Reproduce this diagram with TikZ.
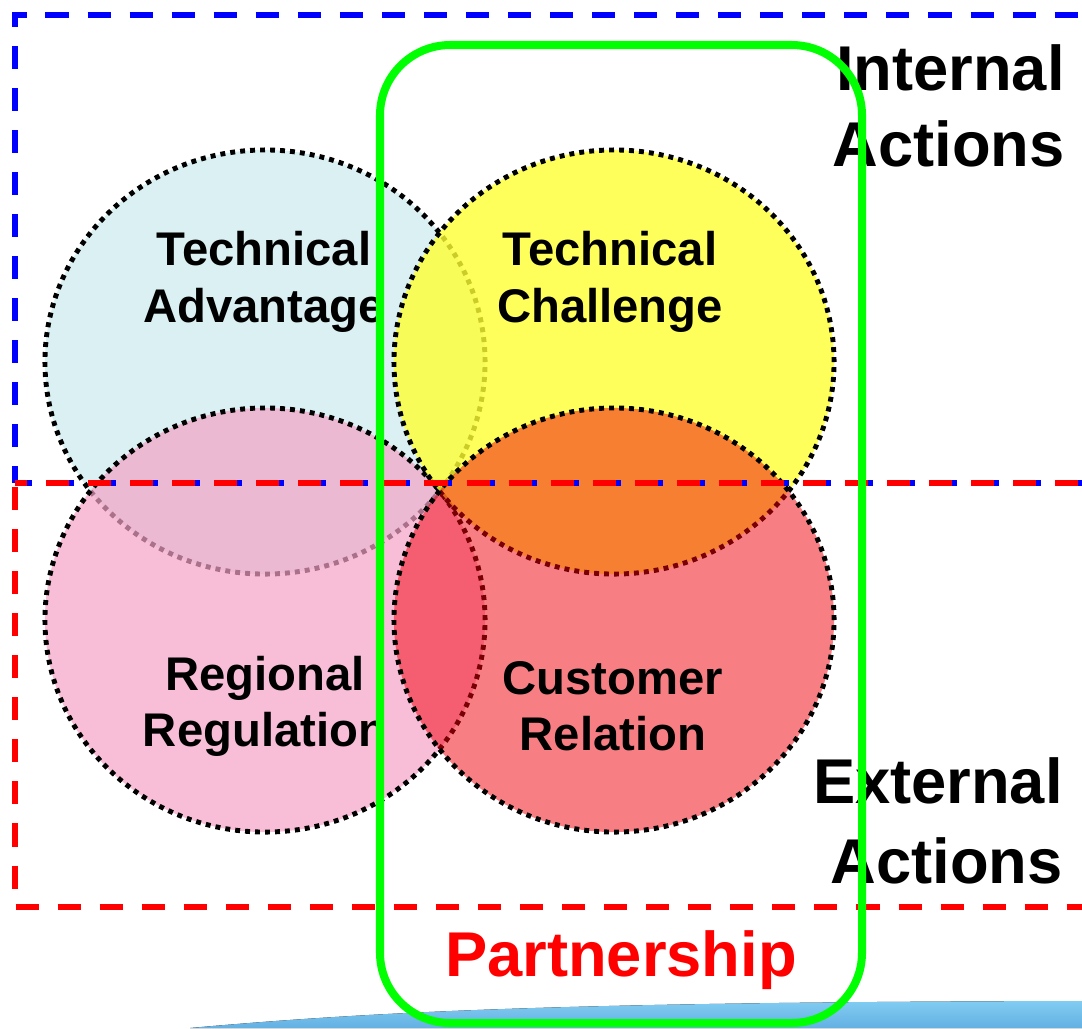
\documentclass[tikz,border=0pt]{standalone}
\usepackage{fontspec}
\setmainfont{Liberation Sans}
\usetikzlibrary{shapes,backgrounds,calc,positioning}
\usepackage{xcolor}
\definecolor{advfill}{RGB}{218,240,242}
\definecolor{regfill}{RGB}{245,162,198}
\definecolor{chalfill}{RGB}{255,255,50}
\definecolor{custfill}{RGB}{240,0,10}
\definecolor{intblue}{RGB}{0,0,255}
\definecolor{extred}{RGB}{255,0,0}
\definecolor{partgreen}{RGB}{0,255,0}
\definecolor{swooptop}{RGB}{128,204,242}
\definecolor{swoopbot}{RGB}{100,176,226}

\begin{document}
\begin{tikzpicture}[
            x = 0.025cm,
            y = -0.025cm,
            area/.style={
                draw,
                ellipse,
                line width = 3.5pt,
                dash pattern = on 3.5pt off 3.6pt,
                minimum width = 11cm,
                minimum height = 10.6cm,
                inner sep = 0pt
            },
            topic/.style={
                align = center,
                inner sep = 0pt,
                font = \fontsize{33.6}{40}\selectfont\bfseries
            },
            side/.style={
                align = right,
                inner sep = 0pt,
                anchor = east
            },
            border/.style={
                line width = 3.6pt,
                dash pattern = on 16.4pt off 13.5pt
            }
        ]
        \useasboundingbox (0,0) rectangle (1082,1028);
        \clip (0,0) rectangle (1082,1028);

        % the four fields
        \node[area, fill = advfill] (adv) at (265,362) {};
        \node[area, fill = regfill, fill opacity = 0.7] (reg) at (265,620) {};
        \node[area, fill = chalfill, fill opacity = 0.8] (chal) at (614,362) {};
        \node[area, fill = custfill, fill opacity = 0.5] (cust) at (614,620) {};

        % internal / external frames
        \draw[border, intblue, dash phase = 4.3pt] (15,483) -- (15,15) -- (1100,15);
        \draw[border, intblue, dash phase = 4.3pt] (15,483) -- (1100,483);
        \draw[border, extred, dash phase = 27pt] (15,483) -- (15,907) -- (1100,907);
        \draw[border, extred, dash phase = 7.8pt] (15,483) -- (1100,483);

        \node[topic] (advtext) at (264,282) {Technical\\Advantage};
        \node[topic] (chaltext) at (610,282) {Technical\\Challenge};
        \node[topic] (regtext) at (265,706) {Regional\\Regulation};
        \node[topic] (custtext) at (613,706) {Customer\\Relation};

        \node[side, font = \fontsize{45}{54}\selectfont\bfseries] (internal) at (1065,106) {Internal\\Actions};
        \node[side, font = \fontsize{45}{57}\selectfont\bfseries] (external) at (1063,821) {External\\Actions};

        % bottom swoosh
        \fill[top color = swooptop, bottom color = swoopbot] (190,1028) .. controls (370,1012) and (560,1002) .. (1082,1001) -- (1082,1028) -- cycle;

        % partnership band
        \draw[partgreen, line width = 5.7pt, rounded corners = 50pt] (380,45) rectangle (862,1023);
        \node[inner sep = 0pt, text = extred, font = \fontsize{45}{54}\selectfont\bfseries] (partner) at (621,960) {Partnership};
    \end{tikzpicture}
\end{document}
